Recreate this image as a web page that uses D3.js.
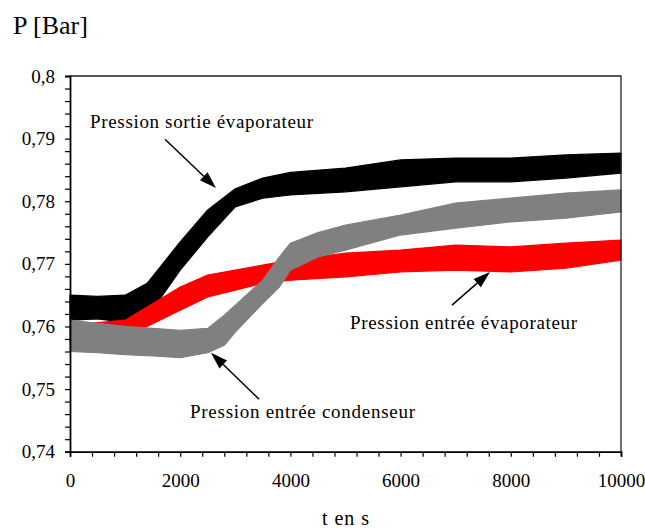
<!DOCTYPE html>
<html>
<head>
<meta charset="utf-8">
<script src="https://cdn.jsdelivr.net/npm/d3@7"></script>
<style>
  body { margin: 0; background: #fff; }
  svg text { font-family: "Liberation Serif", "Times New Roman", Times, "DejaVu Serif", serif !important; fill: #000; }
</style>
</head>
<body>
<div id="chart"></div>
<script>
// values: upper / lower edge of each noisy trace
var tSortie = [0, 500, 1000, 1400, 2000, 2500, 3000, 3500, 4000, 5000, 6000, 7000, 8000, 9000, 10000];
var sortieHi = [0.7650, 0.7648, 0.7650, 0.7669, 0.7735, 0.7786, 0.7820, 0.7837, 0.7846, 0.7853, 0.7866, 0.7869, 0.7869, 0.7874, 0.7877];
var sortieLo = [0.7610, 0.7612, 0.7607, 0.7615, 0.7690, 0.7743, 0.7791, 0.7805, 0.7810, 0.7815, 0.7823, 0.7831, 0.7831, 0.7837, 0.7845];

var tEvap = [0, 500, 1000, 1400, 2000, 2500, 3000, 3500, 4000, 5000, 6000, 7000, 8000, 9000, 10000];
var evapHi = [0.7603, 0.7606, 0.7610, 0.7631, 0.7663, 0.7682, 0.7690, 0.7698, 0.7706, 0.7717, 0.7722, 0.7730, 0.7727, 0.7733, 0.7738];
var evapLo = [0.7575, 0.7580, 0.7585, 0.7600, 0.7626, 0.7647, 0.7658, 0.7669, 0.7674, 0.7679, 0.7687, 0.7690, 0.7687, 0.7693, 0.7706];

var tCond = [0, 500, 1000, 1500, 2000, 2500, 2800, 3000, 3500, 3800, 4000, 4500, 5000, 6000, 7000, 8000, 9000, 10000];
var condHi = [0.7610, 0.7605, 0.7600, 0.7597, 0.7594, 0.7597, 0.7618, 0.7634, 0.7674, 0.7711, 0.7733, 0.7750, 0.7762, 0.7778, 0.7797, 0.7805, 0.7813, 0.7818];
var condLo = [0.7560, 0.7558, 0.7555, 0.7553, 0.7550, 0.7558, 0.7570, 0.7591, 0.7637, 0.7663, 0.7690, 0.7711, 0.7722, 0.7746, 0.7757, 0.7767, 0.7773, 0.7783];

var xTicks = [0, 2000, 4000, 6000, 8000, 10000];
var yTicks = [0.74, 0.75, 0.76, 0.77, 0.78, 0.79, 0.8];

var seriesNames = ["Pression sortie évaporateur", "Pression entrée évaporateur", "Pression entrée condenseur"];
var palette = ["#000000", "#ff0000", "#808080"];

var serifFont = "'Liberation Serif', 'Times New Roman', Times, 'DejaVu Serif', serif";

function chart(id){

let width = 645, height = 528;
let margin = {left: 70, right: 24, top: 76, bottom: 76.3};

let svg = d3.select(id).append("svg")
    .attr("width", width)
    .attr("height", height)
    .attr("font-family", serifFont);

let x = d3.scaleLinear().domain([0, 10000]).range([margin.left, width - margin.right]);
let y = d3.scaleLinear().domain([0.74, 0.8]).range([height - margin.bottom, margin.top]);

let comma = d3.formatLocale({decimal: ",", thousands: "", grouping: [3], currency: ["", ""]});
let fmtY = comma.format("~g");

let series = [
    {t: tSortie, hi: sortieHi, lo: sortieLo},
    {t: tEvap, hi: evapHi, lo: evapLo},
    {t: tCond, hi: condHi, lo: condLo}
];

let area = d3.area()
    .x(function(d){ return x(d.t); })
    .y0(function(d){ return y(d.lo); })
    .y1(function(d){ return y(d.hi); });

let bandGroup = svg.append("g");
series.forEach(function(s, i){
    let pts = s.t.map(function(t, j){ return {t: t, hi: s.hi[j], lo: s.lo[j]}; });
    bandGroup.append("path")
        .attr("d", area(pts))
        .attr("fill", palette[i])
        .attr("stroke", palette[i])
        .attr("stroke-width", 1.2)
        .attr("stroke-linejoin", "round");
});

// frame (top / right)
svg.append("path")
    .attr("d", "M" + x(0) + "," + y(0.8) + "H" + x(10000) + "V" + y(0.74))
    .attr("fill", "none")
    .attr("stroke", "#222")
    .attr("stroke-width", 1.3);

// y axis
let yMinor = d3.range(0, 31).map(function(k){ return 0.74 + k * 0.002; });
let yAxis = svg.append("g").attr("class", "axis axis--y")
    .attr("transform", "translate(" + x(0) + ",0)")
    .call(d3.axisLeft(y).tickValues(yMinor).tickSize(5).tickPadding(10)
        .tickFormat(function(d){
            let hit = yTicks.find(function(v){ return Math.abs(v - d) < 1e-9; });
            return hit === undefined ? "" : fmtY(hit);
        }));
yAxis.attr("font-family", serifFont);
yAxis.select(".domain").attr("stroke", "#000").attr("stroke-width", 1.8);
yAxis.selectAll(".tick line").attr("stroke", "#000").attr("stroke-width", 1.2);
yAxis.selectAll(".tick text").attr("font-size", 19);

// x axis
let xMinor = d3.range(0, 26).map(function(k){ return k * 400; });
let xAxis = svg.append("g").attr("class", "axis axis--x")
    .attr("transform", "translate(0," + y(0.74) + ")")
    .call(d3.axisBottom(x).tickValues(xMinor).tickSize(5)
        .tickFormat(function(d){ return xTicks.indexOf(d) < 0 ? "" : String(d); }));
xAxis.attr("font-family", serifFont);
xAxis.select(".domain").attr("stroke", "#000").attr("stroke-width", 1.8);
xAxis.selectAll(".tick line").attr("stroke", "#000").attr("stroke-width", 1.2);
xAxis.selectAll(".tick text")
    .attr("font-size", 19)
    .attr("y", 35).attr("dy", 0);

// axis titles
svg.append("text").text("P [Bar]")
    .attr("x", 13).attr("y", 34)
    .attr("font-size", 26);
svg.append("text").text("t en s")
    .attr("x", 322).attr("y", 525)
    .attr("font-size", 20)
    .attr("textLength", 47)
    .attr("lengthAdjust", "spacing");

// annotations with arrows
let notes = [
    {text: seriesNames[0], tx: 363, ty: 0.7917, w: 223, from: [1724, 0.7899], to: [2650, 0.7821]},
    {text: seriesNames[1], tx: 5082, ty: 0.7596, w: 227, from: [6933, 0.7634], to: [7623, 0.7687]},
    {text: seriesNames[2], tx: 2178, ty: 0.7454, w: 225, from: [3430, 0.7484], to: [2559, 0.7558]}
];

let noteGroup = svg.append("g");
notes.forEach(function(n){
    noteGroup.append("text").text(n.text)
        .attr("x", x(n.tx)).attr("y", y(n.ty))
        .attr("font-size", 19)
        .attr("textLength", n.w)
        .attr("lengthAdjust", "spacing");

    let x1 = x(n.from[0]), y1 = y(n.from[1]), x2 = x(n.to[0]), y2 = y(n.to[1]);
    let a = Math.atan2(y2 - y1, x2 - x1);
    let len = 17, half = 5.5;
    let bx = x2 - len * Math.cos(a), by = y2 - len * Math.sin(a);
    noteGroup.append("line")
        .attr("x1", x1).attr("y1", y1)
        .attr("x2", bx).attr("y2", by)
        .attr("stroke", "#000").attr("stroke-width", 1.5);
    noteGroup.append("path")
        .attr("d", "M" + x2 + "," + y2 +
                   "L" + (bx + half * Math.sin(a)) + "," + (by - half * Math.cos(a)) +
                   "L" + (bx - half * Math.sin(a)) + "," + (by + half * Math.cos(a)) + "Z")
        .attr("fill", "#000");
});

}

chart("#chart");
</script>
</body>
</html>
